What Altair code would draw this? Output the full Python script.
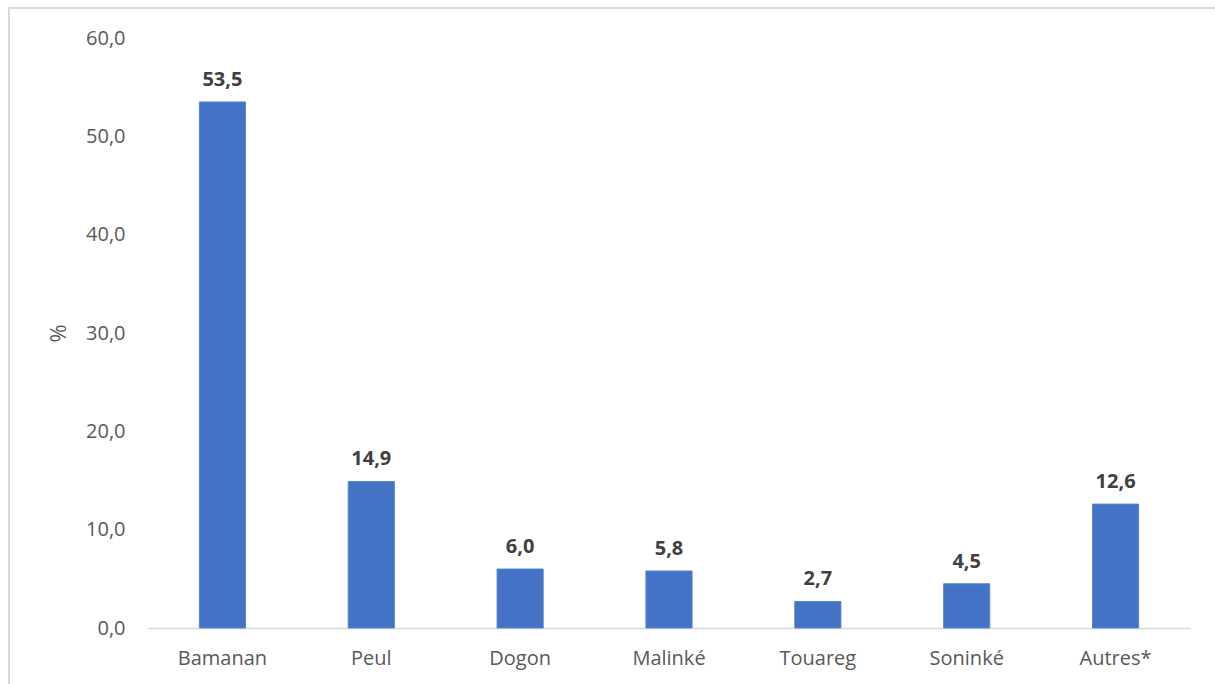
import altair as alt
import pandas as pd

categories = ["Bamanan", "Peul", "Dogon", "Malinké", "Touareg", "Soninké", "Autres*"]
values = [53.5, 14.9, 6.0, 5.8, 2.7, 4.5, 12.6]
labels = ["53,5", "14,9", "6,0", "5,8", "2,7", "4,5", "12,6"]

df = pd.DataFrame({"cat": categories, "val": values, "lab": labels})

FONT = "Open Sans"

x = alt.X("cat:N", sort=categories, title=None,
          scale=alt.Scale(paddingInner=0.69, paddingOuter=0.345),
          axis=alt.Axis(labelAngle=0, labelFontSize=20, labelColor="#595959",
                        labelFont=FONT, labelPadding=20, ticks=False,
                        domainColor="#d9d9d9", domainWidth=1.5))
y = alt.Y("val:Q", title="%",
          scale=alt.Scale(domain=[0, 60], nice=False),
          axis=alt.Axis(values=[0, 10, 20, 30, 40, 50, 60],
                        labelExpr="replace(format(datum.value, '.1f'), '.', ',')",
                        labelFontSize=20, labelColor="#595959", labelFont=FONT,
                        labelPadding=23, ticks=False, domain=False, grid=False,
                        titleFont=FONT, titleFontSize=22, titleColor="#595959",
                        titleFontWeight="normal", titlePadding=15))

bars = alt.Chart(df).mark_bar(color="#4472c4", stroke="#5b86d0", strokeWidth=1).encode(x=x, y=y)
text = alt.Chart(df).mark_text(dy=-22, font=FONT, fontSize=20, fontWeight="bold",
                               color="#404040").encode(x=x, y=y, text="lab:N")

border = alt.Chart(df).mark_rect(fill=None, stroke="#d9d9d9", strokeWidth=2, clip=False).encode(
    x=alt.value(-139), x2=alt.value(1100), y=alt.value(-30), y2=alt.value(700))

chart = alt.layer(border, bars, text).properties(
    width=1042, height=590,
    background="white",
    padding={"left": 148, "top": 38, "right": 25, "bottom": 56},
    autosize=alt.AutoSizeParams(type="none"),
).configure_view(strokeWidth=0, stroke="transparent")

chart.save("out.html", embed_options={"renderer": "svg", "actions": False})
